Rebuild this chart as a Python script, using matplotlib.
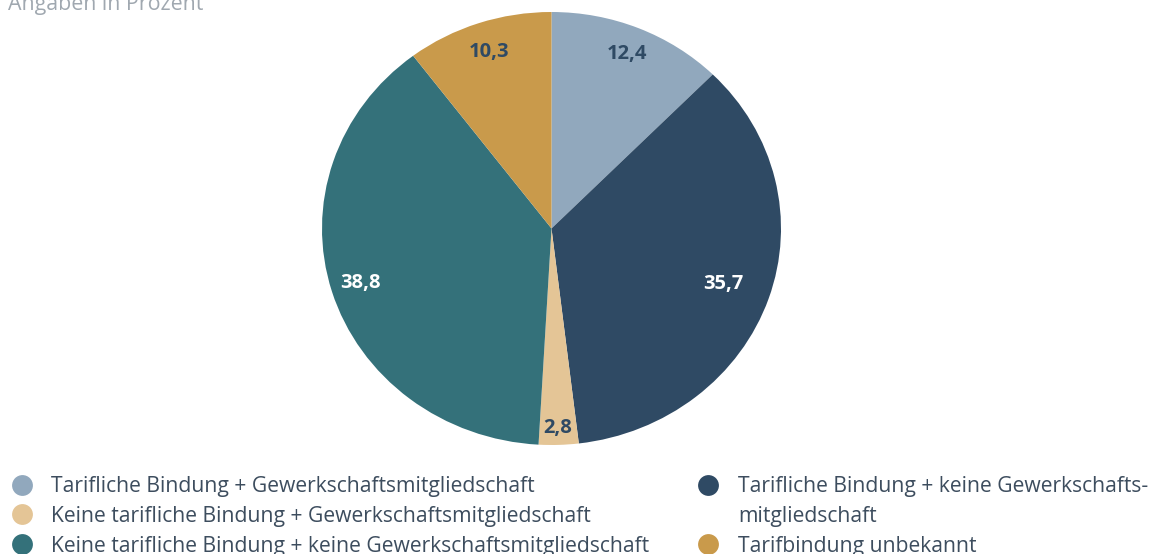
import numpy as np
import matplotlib.pyplot as plt
from matplotlib.lines import Line2D

plt.rcParams['font.family'] = ['Open Sans', 'DejaVu Sans']

# data, clockwise from 12 o'clock
categories = [
    "Tarifliche Bindung + Gewerkschaftsmitgliedschaft",
    "Tarifliche Bindung + keine Gewerkschafts-\nmitgliedschaft",
    "Keine tarifliche Bindung + Gewerkschaftsmitgliedschaft",
    "Keine tarifliche Bindung + keine Gewerkschaftsmitgliedschaft",
    "Tarifbindung unbekannt",
]
values = [12.4, 35.7, 2.8, 38.8, 10.3]
colors = ["#91a8bd", "#2f4a64", "#e4c596", "#34717a", "#c99a4b"]
label_colors = ["#2f4a64", "white", "#2f4a64", "white", "#2f4a64"]
label_dist = [0.87, 0.79, 0.92, 0.87, 0.86]
legend_order = [0, 2, 3, 1, 4]

fig = plt.figure(figsize=(11.54, 5.54), dpi=100)
ax = fig.add_axes([322 / 1154, 109 / 554, 459 / 1154, 433 / 554])

labels = [f"{v:.1f}".replace(".", ",") for v in values]
wedges, texts = ax.pie(values, colors=colors, labels=labels, startangle=90,
                       counterclock=False, wedgeprops=dict(linewidth=0))
for w, t, c, d in zip(wedges, texts, label_colors, label_dist):
    ang = np.deg2rad((w.theta1 + w.theta2) / 2)
    t.set_position((d * np.cos(ang), d * np.sin(ang)))
    t.set_ha("center")
    t.set_va("center")
    t.set_color(c)
    t.set_fontsize(14.5)
    t.set_fontweight("bold")
ax.set_aspect("auto")
ax.set_xlim(-1, 1)
ax.set_ylim(-1, 1)

fig.text(8 / 1154, 1 - 10 / 554, "Angaben in Prozent", color="#a0a8b0",
         fontsize=15.4, va="baseline", ha="left")

handles = []
names = []
for i in legend_order:
    name = categories[i]
    dot = Line2D([], [], ls="", marker="o", markersize=15,
                 markerfacecolor=colors[i], markeredgewidth=0)
    if "\n" in name:
        first, second = name.split("\n")
        handles += [dot, Line2D([], [], ls="", marker="")]
        names += [first, second]
    else:
        handles.append(dot)
        names.append(name)

leg = fig.legend(handles, names, ncol=2, loc="upper left",
                 bbox_to_anchor=(11 / 1154, 1 - 476 / 554), frameon=False,
                 fontsize=15.2, labelcolor="#3d4d5e", handlelength=1.0,
                 handletextpad=0.9, labelspacing=0.42, columnspacing=2.3,
                 borderpad=0, borderaxespad=0)

fig.savefig("out.png", dpi=100)
